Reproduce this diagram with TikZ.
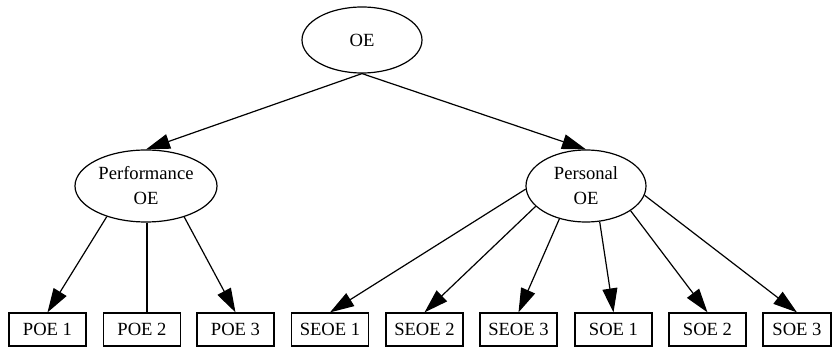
\documentclass[tikz,border=0pt]{standalone}
\usepackage{fontspec}
\setmainfont{Liberation Serif}
\usetikzlibrary{arrows.meta,positioning,shapes.geometric}
\tikzset{
  oenode/.style={draw=black,ellipse,line width=0.6pt,
                 inner xsep=-2pt,inner ysep=0pt,
                 align=center,font=\fontsize{9.3}{12.5}\selectfont},
  itembox/.style={draw=black,rectangle,line width=0.6pt,
                  minimum width=38.5pt,minimum height=16.5pt,
                  inner sep=0pt,font=\fontsize{9.3}{11}\selectfont},
  treearr/.style={-{Triangle[length=12pt,width=7.5pt]},line width=0.6pt},
  treeline/.style={line width=0.9pt}
}

\begin{document}
\begin{tikzpicture}[x=0.5pt,y=0.5pt]
  \useasboundingbox (0,0) rectangle (832,348);

  % root
  \node[oenode,minimum width=60pt,minimum height=33pt] (oe) at (362,308) {OE};

  % middle level
  \node[oenode,minimum width=71pt,minimum height=36pt] (perf) at (146,162) {Performance\\OE};
  \node[oenode,minimum width=60pt,minimum height=36pt] (pers) at (586,162) {Personal\\OE};

  % leaves
  \node[itembox] (poe1) at (47.5,18.5) {POE 1};
  \node[itembox] (poe2) at (142,18.5) {POE 2};
  \node[itembox] (poe3) at (235.5,18.5) {POE 3};
  \node[itembox] (seoe1) at (330,18.5) {SEOE 1};
  \node[itembox] (seoe2) at (424.5,18.5) {SEOE 2};
  \node[itembox] (seoe3) at (518.5,18.5) {SEOE 3};
  \node[itembox] (soe1) at (613.5,18.5) {SOE 1};
  \node[itembox] (soe2) at (707.5,18.5) {SOE 2};
  \node[itembox,minimum width=34pt] (soe3) at (797,18.5) {SOE 3};

  % edges
  \draw[treearr] (oe.south) -- (perf.north);
  \draw[treearr] (oe.south) -- (pers.north);
  \draw[treearr] (perf.218) -- (poe1.north);
  \draw[treeline] (perf.272) -- (perf.272 |- poe2.north);
  \draw[treearr] (perf.321) -- (poe3.north);
  \draw[treearr] (pers.183) -- (seoe1.north);
  \draw[treearr] (pers.202) -- (seoe2.north);
  \draw[treearr] (pers.231) -- (seoe3.north);
  \draw[treearr] (pers.291) -- (soe1.north);
  \draw[treearr] (pers.331) -- (soe2.north);
  \draw[treearr] (pers.351) -- (soe3.north);
\end{tikzpicture}
\end{document}
